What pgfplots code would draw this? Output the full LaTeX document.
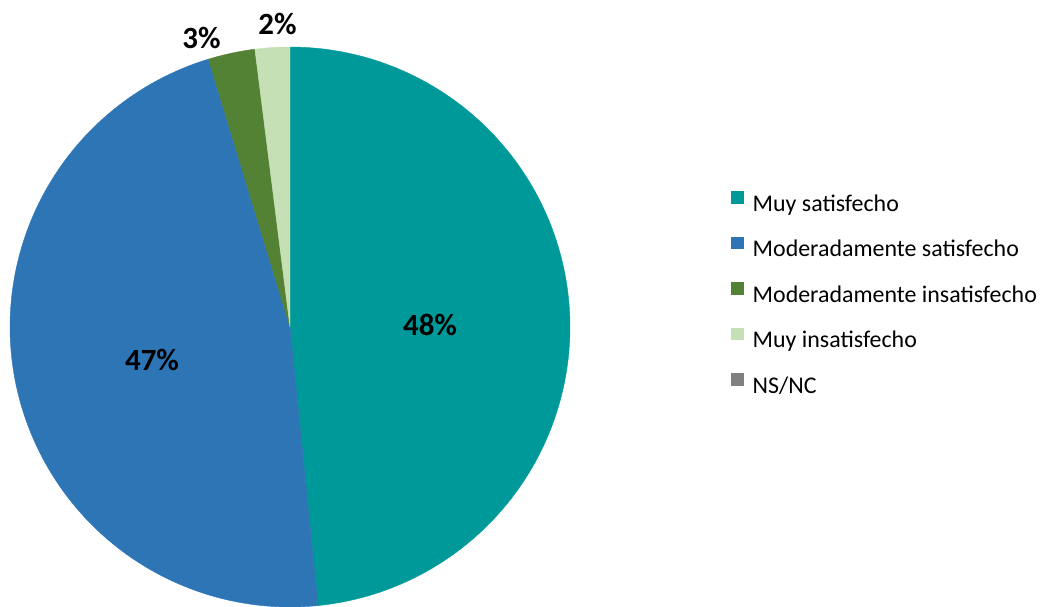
\documentclass[border=0pt]{standalone}
\usepackage{pgfplots}
\pgfplotsset{compat=1.18}
\usepackage{pgfplotstable}
\usepackage{fontspec}
\setmainfont{Carlito}
\definecolor{cA}{HTML}{009999}
\definecolor{cB}{HTML}{2E75B6}
\definecolor{cC}{HTML}{548235}
\definecolor{cD}{HTML}{C5E0B4}
\definecolor{cE}{HTML}{808080}
\pgfplotstableread{
idx value
0 48.4
1 46.9
2 2.7
3 2.0
4 0
}\piedata
\begin{document}
\begin{tikzpicture}
\pgfplotstablegetelem{0}{value}\of\piedata\let\vA\pgfplotsretval
\pgfplotstablegetelem{1}{value}\of\piedata\let\vB\pgfplotsretval
\pgfplotstablegetelem{2}{value}\of\piedata\let\vC\pgfplotsretval
\pgfplotstablegetelem{3}{value}\of\piedata\let\vD\pgfplotsretval
\pgfmathsetmacro\aA{90}
\pgfmathsetmacro\aB{\aA-3.6*\vA}
\pgfmathsetmacro\aC{\aB-3.6*\vB}
\pgfmathsetmacro\aD{\aC-3.6*\vC}
\pgfmathsetmacro\aE{\aD-3.6*\vD}
\begin{axis}[
  at={(0,0)}, anchor=south west,
  scale only axis, width=1045bp, height=607bp,
  xmin=0, xmax=1045, ymin=0, ymax=607,
  hide axis, clip=false,
  legend image code/.code={\fill[#1, draw=none] (0bp,2bp) rectangle (12.5bp,14.5bp);},
  legend style={at={(axis cs:731,416)}, anchor=north west, draw=none, fill=none,
    font=\fontsize{24}{28}\selectfont, legend cell align=left,
    inner sep=0pt, column sep=9bp, row sep=19.5bp,
    nodes={inner sep=0pt, text height=17bp, text depth=6bp}},
]
\addplot[fill=cA, draw=cA, line width=0.4bp, domain=\aB:\aA, samples=120, variable=\t, forget plot]
  ({290+280*cos(\t)},{280+280*sin(\t)}) -- (axis cs:290,280) -- cycle;
\addplot[fill=cB, draw=cB, line width=0.4bp, domain=\aC:\aB, samples=120, variable=\t, forget plot]
  ({290+280*cos(\t)},{280+280*sin(\t)}) -- (axis cs:290,280) -- cycle;
\addplot[fill=cC, draw=cC, line width=0.4bp, domain=\aD:\aC, samples=20, variable=\t, forget plot]
  ({290+280*cos(\t)},{280+280*sin(\t)}) -- (axis cs:290,280) -- cycle;
\addplot[fill=cD, draw=cD, line width=0.4bp, domain=\aE:\aD, samples=20, variable=\t, forget plot]
  ({290+280*cos(\t)},{280+280*sin(\t)}) -- (axis cs:290,280) -- cycle;
\addlegendimage{fill=cA}\addlegendentry{Muy satisfecho}
\addlegendimage{fill=cB}\addlegendentry{Moderadamente satisfecho}
\addlegendimage{fill=cC}\addlegendentry{Moderadamente insatisfecho}
\addlegendimage{fill=cD}\addlegendentry{Muy insatisfecho}
\addlegendimage{fill=cE}\addlegendentry{NS/NC}
\begin{scope}[every node/.style={font=\fontsize{31}{36}\selectfont\bfseries}]
\node at (axis cs:430,282) {48\%};
\node at (axis cs:152,247) {47\%};
\node at (axis cs:201.5,569.5) {3\%};
\node at (axis cs:277.5,583) {2\%};
\end{scope}
\end{axis}
\pgfresetboundingbox
\useasboundingbox (0,0) rectangle (1045bp,607bp);
\end{tikzpicture}
\end{document}
